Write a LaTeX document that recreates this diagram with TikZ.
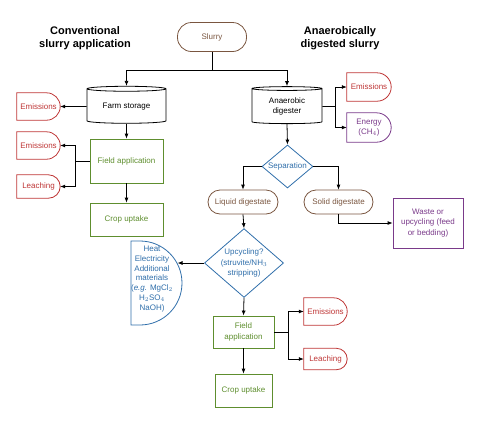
\documentclass[tikz,border=0pt]{standalone}
\usepackage{fontspec}
\setmainfont{Liberation Sans}
\usetikzlibrary{shapes.geometric,arrows.meta,calc}
\definecolor{brownc}{HTML}{7A5640}
\definecolor{redc}{HTML}{BE3535}
\definecolor{greenc}{HTML}{5E8E2E}
\definecolor{bluec}{HTML}{2F6EAA}
\definecolor{purplec}{HTML}{7A3A8A}
\begin{document}
\begin{tikzpicture}[x=1pt, y=1pt, every node/.style={font=\fontsize{8}{10.5}\selectfont},
  flow/.style={-{Latex[length=5pt,width=4pt]}, line width=0.8pt},
  term/.style={draw=brownc, text=brownc, rounded corners=#1, line width=0.8pt, align=center, inner sep=1pt},
  tank/.style={draw, cylinder, shape border rotate=90, aspect=0.1, line width=0.8pt, align=center, inner sep=1pt},
  fieldbox/.style={draw=greenc, text=greenc, line width=0.8pt, align=center},
  decide/.style={draw=bluec, text=bluec, diamond, aspect=1.15, line width=0.8pt, align=center, inner sep=0pt},
  outlet/.style={align=center, inner sep=0pt},
  title/.style={font=\fontsize{11}{13}\selectfont\bfseries, align=center}]
\useasboundingbox (0,0) rectangle (480,-424);
% titles
\node[title] (tconv) at (85,-38) {Conventional\\slurry application};
\node[title] (tad) at (340,-38) {Anaerobically\\digested slurry};
% top
\node[term=14pt, minimum width=69pt, minimum height=29pt] (slurry) at (212,-37) {Slurry};
\node[tank, minimum width=79pt, minimum height=37pt] (storage) at (126.5,-106.5) {Farm storage};
\node[tank, minimum width=70pt, minimum height=37pt] (digester) at (287,-106.5) {Anaerobic\\digester};
% conventional branch
\node[outlet, text=redc, minimum width=43pt, minimum height=27pt] (emA) at (38.5,-106.5) {Emissions};
\node[fieldbox, minimum width=73pt, minimum height=44pt] (fieldA) at (126.5,-161) {Field application};
\node[outlet, text=redc, minimum width=43pt, minimum height=27pt] (emB) at (38.5,-145.5) {Emissions};
\node[outlet, text=redc, minimum width=43pt, minimum height=23pt] (leachA) at (38.5,-186.5) {Leaching};
\node[fieldbox, minimum width=73pt, minimum height=33pt] (cropA) at (126.5,-219.5) {Crop uptake};
% digested branch
\node[outlet, text=redc, minimum width=44pt, minimum height=28pt] (emC) at (369,-87) {Emissions};
\node[outlet, text=purplec, minimum width=44pt, minimum height=29pt] (energy) at (369,-127.5) {Energy\\(CH$_4$)};
\node[decide, minimum width=51pt, minimum height=43pt] (sep) at (287.5,-166.5) {Separation};
\node[term=12pt, minimum width=70pt, minimum height=24pt] (liquid) at (243,-202) {Liquid digestate};
\node[term=12pt, minimum width=69pt, minimum height=24pt] (solid) at (338.5,-202) {Solid digestate};
\node[draw=purplec, text=purplec, line width=0.8pt, minimum width=70pt, minimum height=50pt, align=center] (waste) at (428,-223) {Waste or\\upcycling (feed\\or bedding)};
\node[decide, minimum width=78pt, minimum height=68pt] (upcyc) at (244,-263) {Upcycling?\\(struvite/NH$_3$\\stripping)};
\node[outlet, text=bluec, font=\fontsize{8}{9.8}\selectfont] (heat) at (152,-279) {Heat\\Electricity\\Additional\\materials\\(\textit{e.g.} MgCl$_2$\\H$_2$SO$_4$\\NaOH)};
\node[fieldbox, minimum width=61pt, minimum height=32pt] (fieldB) at (243.5,-332) {Field\\application};
\node[outlet, text=redc, minimum width=43pt, minimum height=27pt] (emD) at (325.5,-311.5) {Emissions};
\node[outlet, text=redc, minimum width=43pt, minimum height=21pt] (leachB) at (325.5,-359) {Leaching};
\node[fieldbox, minimum width=57pt, minimum height=33pt] (cropB) at (243.5,-390.5) {Crop uptake};
% half-round outlines
\foreach \nd/\c in {emA/redc, emB/redc, leachA/redc, emC/redc, energy/purplec, emD/redc, leachB/redc}
  \draw[\c, line width=0.8pt] let \p1=(\nd.north east), \p2=(\nd.south west), \n1={(\y1-\y2)/2} in
    (\x2,\y1) -- (\x1-\n1,\y1) arc(90:-90:\n1) -- (\x2,\y2) -- cycle;
\draw[bluec, line width=0.8pt] (131,-241) -- (140,-241) arc(90:-90:42) -- (131,-325) -- cycle;
% connectors
\coordinate (split) at (212,-70);
\coordinate (forkA) at (75,-161);
\coordinate (forkB) at (335,-106.5);
\coordinate (forkC) at (288,-332);
\coordinate (heatArc) at (177.5,-263);
\draw[line width=0.8pt] (slurry.south) -- (split);
\draw[flow] (split) -| (storage.north);
\draw[flow] (split) -| (digester.north);
\draw[flow] (storage.west) -- (emA.east);
\draw[flow] (storage.south) -- (fieldA.north);
\draw[line width=0.8pt] (fieldA.west) -- (forkA);
\draw[flow] (forkA) |- (emB.east);
\draw[flow] (forkA) |- (leachA.east);
\draw[flow] (fieldA) -- (cropA);
\draw[line width=0.8pt] (digester.east) -- (forkB);
\draw[flow] (forkB) |- (emC.west);
\draw[flow] (forkB) |- (energy.west);
\draw[flow] (digester.south) -- (sep.north);
\draw[flow] (sep.west) -| (liquid.north);
\draw[flow] (sep.east) -| (solid.north);
\draw[flow] (solid.south) |- (waste.west);
\draw[flow] (liquid.south) -- (upcyc.north);
\draw[flow] (upcyc.west) -- (heatArc);
\draw[flow] (upcyc.south) -- (fieldB.north);
\draw[line width=0.8pt] (fieldB.east) -- (forkC);
\draw[flow] (forkC) |- (emD.west);
\draw[flow] (forkC) |- (leachB.west);
\draw[flow] (fieldB) -- (cropB);
\end{tikzpicture}
\end{document}
